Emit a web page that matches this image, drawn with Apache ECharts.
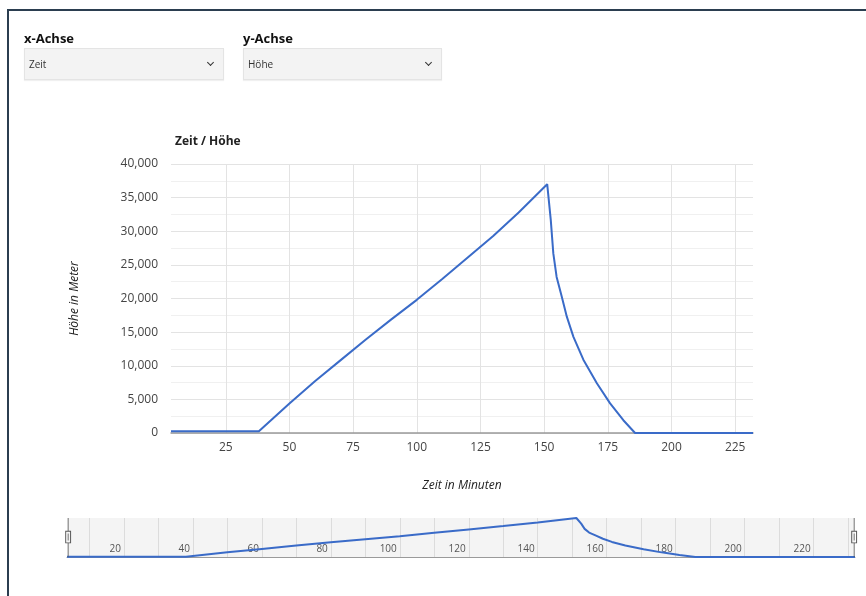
<!DOCTYPE html>
<html>
<head>
<meta charset="utf-8">
<script src="https://cdn.jsdelivr.net/npm/echarts@6/dist/echarts.min.js"></script>
<style>
  html, body { margin:0; padding:0; background:#fff; }
  body { width:866px; height:596px; position:relative; overflow:hidden; font-family:"Open Sans", Arial, sans-serif; }
  #chart { position:absolute; left:0; top:0; width:866px; height:596px; }
  .frame { position:absolute; left:7px; top:9px; width:900px; height:700px; border-left:2px solid #2b3e50; border-top:2px solid #2b3e50; pointer-events:none; }
  .lbl { position:absolute; font-weight:bold; font-size:13px; color:#111; line-height:16px; }
  .sel { position:absolute; height:32px; background:#f3f3f3; border:1px solid #e4e4e4; box-sizing:border-box; box-shadow:0 1px 1px rgba(0,0,0,0.06); font-size:10px; color:#333; line-height:30px; padding-left:4px; }
  .chev { position:absolute; right:10px; top:11px; width:4px; height:4px; border-right:1.6px solid #333; border-bottom:1.6px solid #333; transform:rotate(45deg); }
</style>
</head>
<body>
<div id="chart"></div>
<div class="lbl" style="left:24px;top:30px">x-Achse</div>
<div class="sel" style="left:24px;top:48px;width:200px">Zeit<span class="chev"></span></div>
<div class="lbl" style="left:243px;top:30px">y-Achse</div>
<div class="sel" style="left:243px;top:48px;width:199px">Höhe<span class="chev"></span></div>
<div class="frame"></div>
<script>
// ---- data ----
const timeMinutes = [3.5, 38, 50, 60, 70, 80, 90, 100, 110, 120, 130, 140, 151.2, 152.6, 153.6, 154.9, 156.9, 158.9, 161.5, 165.4, 170.7, 175.9, 181.1, 185.7, 232];
const heightMeters = [250, 250, 4400, 7700, 10800, 13900, 16900, 19800, 22900, 26100, 29300, 32800, 37000, 31700, 26700, 23200, 20300, 17300, 14300, 10900, 7400, 4400, 1900, 0, 0];
const xTickValues = [25, 50, 75, 100, 125, 150, 175, 200, 225];
const sliderGridValues = [10, 20, 30, 40, 50, 60, 70, 80, 90, 100, 110, 120, 130, 140, 150, 160, 170, 180, 190, 200, 210, 220, 230];
const sliderLabelValues = [20, 40, 60, 80, 100, 120, 140, 160, 180, 200, 220];
const chartTitle = 'Zeit / Höhe';
const xName = 'Zeit in Minuten';
const yName = 'Höhe in Meter';

const points = timeMinutes.map((t, i) => [t, heightMeters[i]]);
const FONT = '"Open Sans", Arial, sans-serif';
const BLUE = '#3a6bc8';

const chart = echarts.init(document.getElementById('chart'), null, { renderer: 'canvas' });
chart.setOption({
  animation: false,
  textStyle: { fontFamily: FONT },
  title: {
    text: chartTitle, left: 170, top: 131,
    textStyle: { fontSize: 12, fontWeight: 'bold', color: '#222', fontFamily: FONT }
  },
  grid: [
    { left: 171, right: 113, top: 164, height: 269 },
    { left: 67, right: 11, top: 518, height: 39, show: true, backgroundColor: '#f4f4f4', borderWidth: 0 }
  ],
  xAxis: [
    {
      type: 'value', gridIndex: 0, min: 'dataMin', max: 'dataMax',
      name: xName, nameLocation: 'middle', nameGap: 47,
      nameTextStyle: { fontStyle: 'italic', fontSize: 12, color: '#222', fontFamily: FONT },
      axisLine: { show: true, onZero: false, lineStyle: { color: '#9a9a9a', width: 1.5 } },
      axisTick: { show: false, customValues: xTickValues },
      axisLabel: { customValues: xTickValues, margin: 9, fontSize: 12, color: '#444', fontFamily: FONT },
      splitLine: { show: true, lineStyle: { color: '#e3e3e3', width: 1 } }
    },
    {
      type: 'value', gridIndex: 1, min: 'dataMin', max: 'dataMax',
      axisLine: { show: true, onZero: false, lineStyle: { color: '#9a9a9a', width: 1 } },
      axisTick: { show: false, customValues: sliderGridValues },
      axisLabel: { customValues: sliderLabelValues, inside: true, margin: 3, align: 'right', padding: [0, 3, 0, 0], fontSize: 10, color: '#555', fontFamily: FONT },
      splitLine: { show: true, lineStyle: { color: '#dcdcdc', width: 1 } }
    }
  ],
  yAxis: [
    {
      type: 'value', gridIndex: 0, min: 0, max: 40000, interval: 5000,
      name: yName, nameLocation: 'middle', nameRotate: 90, nameGap: 90,
      nameTextStyle: { fontStyle: 'italic', fontSize: 12, color: '#222', fontFamily: FONT },
      axisLine: { show: false }, axisTick: { show: false },
      axisLabel: { margin: 13, fontSize: 12, color: '#444', fontFamily: FONT },
      splitLine: { show: true, lineStyle: { color: '#e3e3e3', width: 1 } },
      minorTick: { show: false, splitNumber: 2 },
      minorSplitLine: { show: true, lineStyle: { color: '#f0f0f0', width: 1 } }
    },
    {
      type: 'value', gridIndex: 1, min: 0, max: 'dataMax', show: false
    }
  ],
  dataZoom: [
    {
      type: 'slider', xAxisIndex: 1, filterMode: 'none', start: 0, end: 100,
      left: 67, right: 11, top: 518, height: 39,
      showDataShadow: false, showDetail: false, brushSelect: false, moveHandleSize: 0,
      backgroundColor: 'rgba(0,0,0,0)', borderColor: 'rgba(0,0,0,0)', fillerColor: 'rgba(0,0,0,0)',
      handleIcon: 'path://M3.6,0H4.4V14H3.6Z M1,14H7V27H1Z M2,15V26H6V15Z M3.6,17H4.4V24H3.6Z M3.6,27H4.4V40H3.6Z',
      handleSize: '100%',
      handleStyle: { color: '#555', borderWidth: 0 },
      emphasis: { handleStyle: { color: '#555', borderWidth: 0 } }
    }
  ],
  series: [
    {
      type: 'line', xAxisIndex: 0, yAxisIndex: 0, data: points,
      showSymbol: false, smooth: false,
      lineStyle: { color: BLUE, width: 2 }, itemStyle: { color: BLUE }
    },
    {
      type: 'line', xAxisIndex: 1, yAxisIndex: 1, data: points,
      showSymbol: false, smooth: false,
      lineStyle: { color: BLUE, width: 2 }, itemStyle: { color: BLUE }
    }
  ]
});
</script>
</body>
</html>
